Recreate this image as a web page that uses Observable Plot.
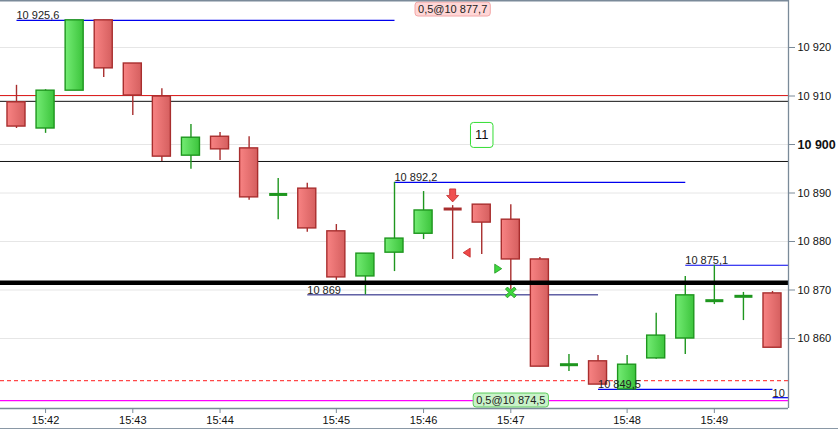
<!DOCTYPE html>
<html><head><meta charset="utf-8">
<script src="https://cdn.jsdelivr.net/npm/d3@7"></script>
<script src="https://cdn.jsdelivr.net/npm/@observablehq/plot@0.6"></script>
<style>
body{margin:0;background:#fff;}
#chart{position:relative;width:838px;height:430px;overflow:hidden;}
#chart .bottomline{position:absolute;left:0;top:428px;width:838px;height:1px;background:#8a98a6;}
</style>
</head><body><div id="chart"><div class="bottomline"></div></div>
<script>
// ---- candle data (20-second bars, index based) ----
const opens  = [10908.7,10903.3,10911.1,10925.6,10916.7,10909.9,10897.7,10901.6,10899.2,10889.7,10890.9,10882.1,10872.8,10877.7,10881.6,10886.7,10887.6,10884.5,10876.3,10854.6,10855.3,10849.5,10855.9,10860.0,10867.8,10868.7,10869.3];
const closes = [10903.7,10911.1,10925.6,10915.7,10910.1,10897.5,10901.4,10899.0,10889.1,10889.7,10882.7,10872.6,10877.5,10880.6,10886.4,10886.6,10883.9,10876.3,10854.2,10854.6,10850.5,10854.6,10860.6,10868.9,10867.8,10868.7,10858.1];
const highs  = [10912.2,10911.3,10925.6,10925.6,10916.7,10911.5,10904.1,10902.5,10901.6,10893.0,10892.0,10883.5,10877.5,10892.2,10890.3,10887.4,10887.6,10887.6,10876.7,10856.7,10856.5,10856.5,10865.2,10872.8,10875.1,10869.5,10869.7];
const lows   = [10903.3,10902.3,10911.1,10913.8,10906.0,10896.5,10894.9,10896.7,10888.5,10884.5,10881.9,10872.0,10869.0,10873.8,10880.4,10876.3,10877.3,10870.0,10854.2,10853.2,10850.5,10849.5,10855.7,10856.7,10867.0,10863.7,10858.1];

// ---- axes ----
const timeTickIndex = [1, 4, 7, 11, 14, 17, 21, 24];
const timeTickLabels = ["15:42","15:43","15:44","15:45","15:46","15:47","15:48","15:49"];
const priceTicks = [10860, 10870, 10880, 10890, 10900, 10910, 10920];

// ---- full-width levels ----
const redLevel = [10910.1];
const blackLevels = [10908.9, 10896.5];
const thickLevel = [10871.5];
const dashedLevel = [10851.3];
const magentaLevel = [10847.2];

// ---- partial level segments (start/end candle index) ----
const segStart = [0, 13, 23, 20, 26];
const segEnd   = [13, 23, null, 26, null];
const segPrice = [10925.6, 10892.2, 10875.1, 10849.5, 10847.8];
const segLabel = ["10 925,6", "10 892,2", "10 875,1", "10 849,5", "10 847,8"];
const darkSegStart = [10], darkSegEnd = [20], darkSegPrice = [10869], darkSegLabel = ["10 869"];

// ---- order markers ----
const sellArrow = [{i: 15, p: 10889.5}];
const sellFill = [{i: 15.5, p: 10877.7}];
const buyFill = [{i: 16.55, p: 10874.4}];
const buyCross = [{i: 17, p: 10869.5}];
const sellTag = [{i: 15, text: "0,5@10 877,7"}];
const buyTag = [{i: 17, text: "0,5@10 874,5"}];
const countTag = [{i: 16, p: 10901.9, text: "11"}];

const xDomain = [-0.55, 26.55];
const yDomain = [10845.57, 10929.69];
const hw = 0.31;

const candles = opens.map((o, i) => ({i, o, c: closes[i], h: highs[i], l: lows[i]}));
const isDoji = d => Math.abs(d.c - d.o) < 0.25;
const up = candles.filter(d => d.c >= d.o);
const down = candles.filter(d => d.c < d.o);
const segs = segStart.map((s, k) => ({s, e: segEnd[k] == null ? xDomain[1] : segEnd[k], p: segPrice[k], label: segLabel[k]}));
const darkSegs = darkSegStart.map((s, k) => ({s, e: darkSegEnd[k], p: darkSegPrice[k], label: darkSegLabel[k]}));

const fmt = v => d3.format(",")(v).replace(/,/g, " ");

const sym = pts => ({draw(ctx) { ctx.moveTo(pts[0][0], pts[0][1]); for (const p of pts.slice(1)) ctx.lineTo(p[0], p[1]); ctx.closePath(); }});
const arrowDown = sym([[-3,-6.5],[3,-6.5],[3,0],[6,0],[0,6.5],[-6,0],[-3,0]]);
const triLeft = sym([[-4,0],[3,-4.5],[3,4.5]]);
const triRight = sym([[4,0],[-3,-4.5],[-3,4.5]]);
const a = 6, w = 2.3;
const xShape = {draw(ctx) {
  const pts = [[0,-w],[a-w,-a],[a,-a+w],[w,0],[a,a-w],[a-w,a],[0,w],[-a+w,a],[-a,a-w],[-w,0],[-a,-a+w],[-a+w,-a]];
  ctx.moveTo(pts[0][0]*0.9, pts[0][1]*0.9); for (const p of pts.slice(1)) ctx.lineTo(p[0]*0.9, p[1]*0.9); ctx.closePath();
}};

const axisColor = "#7a8a99";
const plot = Plot.plot({
  width: 838, height: 430,
  marginTop: 0, marginBottom: 22, marginLeft: 0, marginRight: 50,
  style: {fontFamily: "Arial, 'Liberation Sans', sans-serif", fontSize: "11px", color: "#111", background: "#fff"},
  x: {domain: xDomain, axis: null},
  y: {domain: yDomain, axis: null},
  marks: [
    Plot.ruleY(priceTicks, {stroke: "#e6e6e6", strokeWidth: 1}),
    Plot.ruleY(redLevel, {stroke: "#dd1f1f", strokeWidth: 1}),
    Plot.ruleY(blackLevels, {stroke: "#111", strokeWidth: 1}),
    Plot.ruleY(dashedLevel, {stroke: "#ff1a1a", strokeWidth: 1, strokeDasharray: "4,3"}),
    Plot.ruleY(magentaLevel, {stroke: "#ff00ff", strokeWidth: 1.3}),
    Plot.link(segs, {x1: "s", x2: "e", y1: "p", y2: "p", stroke: "#0000ee", strokeWidth: 1.2}),
    Plot.link(darkSegs, {x1: "s", x2: "e", y1: "p", y2: "p", stroke: "#101078", strokeWidth: 1}),
    // wicks
    Plot.ruleX(up, {x: "i", y1: "l", y2: "h", stroke: "#1e961e", strokeWidth: 1.4}),
    Plot.ruleX(down, {x: "i", y1: "l", y2: "h", stroke: "#a82e2e", strokeWidth: 1.4}),
    // bodies
    Plot.rect(up.filter(d => !isDoji(d)), {x1: d => d.i - hw, x2: d => d.i + hw, y1: "o", y2: "c", fill: "url(#gUp)", stroke: "#1e961e", strokeWidth: 1.4}),
    Plot.rect(down.filter(d => !isDoji(d)), {x1: d => d.i - hw, x2: d => d.i + hw, y1: "o", y2: "c", fill: "url(#gDown)", stroke: "#a82e2e", strokeWidth: 1.4}),
    Plot.link(up.filter(isDoji), {x1: d => d.i - hw, x2: d => d.i + hw, y1: "o", y2: "o", stroke: "#1e961e", strokeWidth: 3}),
    Plot.link(down.filter(isDoji), {x1: d => d.i - hw, x2: d => d.i + hw, y1: "o", y2: "o", stroke: "#a82e2e", strokeWidth: 3}),
    Plot.ruleY(thickLevel, {stroke: "#000", strokeWidth: 4.5}),
    // level labels
    Plot.text(segs, {x: "s", y: "p", text: "label", textAnchor: "start", lineAnchor: "bottom", dy: -1, fill: "#222", fontSize: 11, clip: true}),
    Plot.text(darkSegs, {x: "s", y: "p", text: "label", textAnchor: "start", lineAnchor: "bottom", dy: -1, fill: "#222", fontSize: 11}),
    // markers
    Plot.dot(sellArrow, {x: "i", y: "p", symbol: arrowDown, fill: "#f05050", stroke: "#c02a2a", strokeWidth: 0.8}),
    Plot.dot(sellFill, {x: "i", y: "p", symbol: triLeft, fill: "#f04848", stroke: "#c02a2a", strokeWidth: 0.8}),
    Plot.dot(buyFill, {x: "i", y: "p", symbol: triRight, fill: "#3ed83e", stroke: "#1e961e", strokeWidth: 0.8}),
    Plot.dot(buyCross, {x: "i", y: "p", symbol: xShape, fill: "#3ed83e", stroke: "#1e961e", strokeWidth: 0.8}),
    // tags
    Plot.text(sellTag, {x: "i", frameAnchor: "top", text: "text", dy: 9, lineAnchor: "middle", fill: "#222", fontSize: 11}),
    Plot.text(buyTag, {x: "i", frameAnchor: "bottom", text: "text", dy: -8, lineAnchor: "middle", fill: "#222", fontSize: 11}),
    Plot.text(countTag, {x: "i", y: "p", text: "text", lineAnchor: "middle", fill: "#111", fontSize: 13}),
    // frame lines
    Plot.ruleX([xDomain[1]], {stroke: axisColor, strokeWidth: 1.3}),
    Plot.ruleY([yDomain[0]], {stroke: axisColor, strokeWidth: 1.3}),
    Plot.ruleY([yDomain[1]], {stroke: axisColor, strokeWidth: 2}),
    // axes
    Plot.axisY(priceTicks, {anchor: "right", tickFormat: fmt, tickSize: 6, tickPadding: 3, stroke: axisColor, fill: "#111", fontSize: 11}),
    Plot.axisX(timeTickIndex, {anchor: "bottom", tickFormat: (d) => timeTickLabels[timeTickIndex.indexOf(d)], tickSize: 5, tickPadding: 3, stroke: axisColor, fill: "#111", fontSize: 11, label: null})
  ]
});

const chart = document.getElementById("chart");
chart.prepend(plot);

// gradients for candle bodies
const svg = d3.select(plot);
const defs = svg.insert("defs", ":first-child");
const grad = (id, c1, c2) => {
  const g = defs.append("linearGradient").attr("id", id).attr("x1", 0).attr("x2", 1).attr("y1", 0).attr("y2", 0);
  g.append("stop").attr("offset", "0%").attr("stop-color", c1);
  g.append("stop").attr("offset", "100%").attr("stop-color", c2);
};
grad("gUp", "#74ec74", "#3cc43c");
grad("gDown", "#f88383", "#d55f5f");

// boxes behind tags (found by their text)
const boxify = (txt, fill, stroke, px, py, rx) => {
  svg.selectAll("text").filter(function() { return this.textContent === txt; }).each(function() {
    const b = this.getBBox();
    const r = document.createElementNS("http://www.w3.org/2000/svg", "rect");
    r.setAttribute("x", b.x - px); r.setAttribute("y", b.y - py);
    r.setAttribute("width", b.width + 2 * px); r.setAttribute("height", b.height + 2 * py);
    r.setAttribute("rx", rx); r.setAttribute("fill", fill); r.setAttribute("stroke", stroke);
    const t = this.getAttribute("transform");
    if (t) r.setAttribute("transform", t);
    this.parentNode.insertBefore(r, this);
  });
};
boxify(sellTag[0].text, "#ffd6d6", "#f2a8a8", 3, 1, 3);
boxify(buyTag[0].text, "#c9f2c9", "#5ccc5c", 3, 1, 3);
boxify(countTag[0].text, "#ffffff", "#33dd33", 4.5, 5, 3);

// bold the round level label
svg.selectAll("text").filter(function() { return this.textContent === "10 900"; })
  .attr("font-weight", "bold").attr("font-size", 12.5);
</script>
</body></html>
